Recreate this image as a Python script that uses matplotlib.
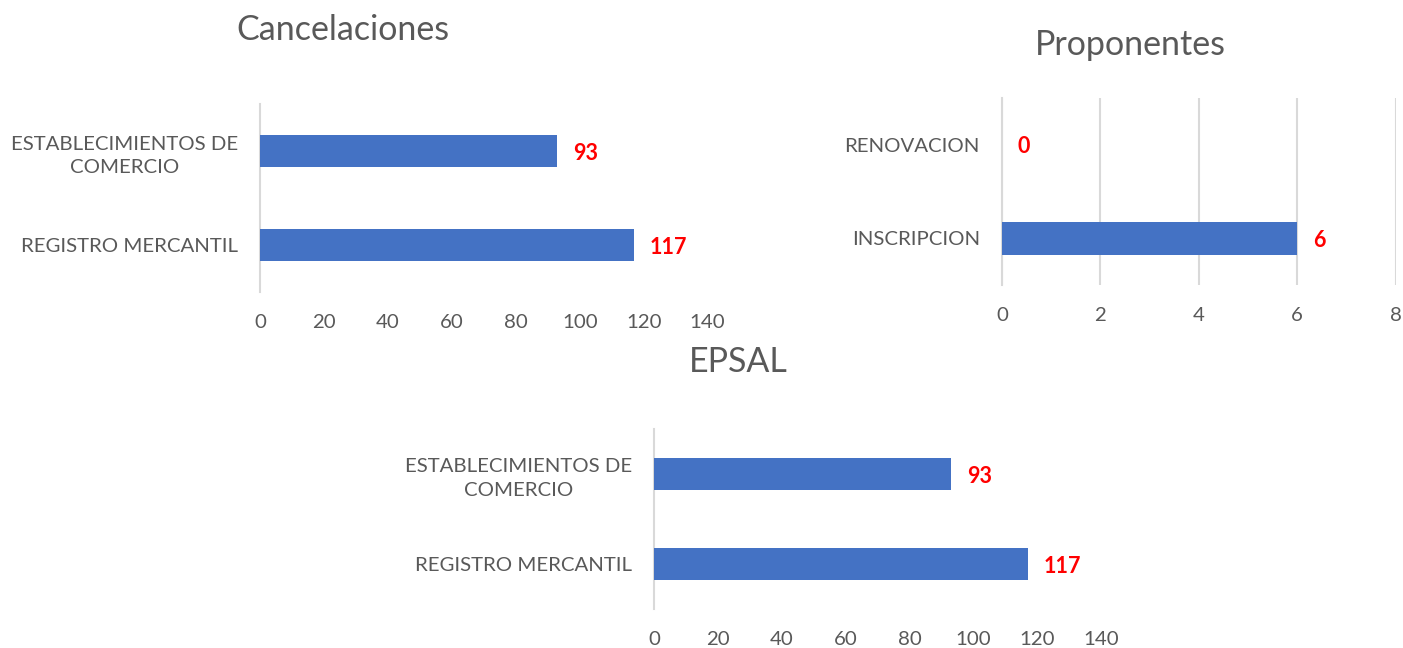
import matplotlib
matplotlib.use("Agg")
import matplotlib.pyplot as plt

plt.rcParams['font.family'] = ['Lato', 'DejaVu Sans']

# Data
cancel_categories = ["REGISTRO MERCANTIL", "ESTABLECIMIENTOS DE\nCOMERCIO"]
cancel_values = [117, 93]
prop_categories = ["INSCRIPCION", "RENOVACION"]
prop_values = [6, 0]
epsal_categories = ["REGISTRO MERCANTIL", "ESTABLECIMIENTOS DE\nCOMERCIO"]
epsal_values = [117, 93]

cancel_ticks = [0, 20, 40, 60, 80, 100, 120, 140]
prop_ticks = [0, 2, 4, 6, 8]
epsal_ticks = [0, 20, 40, 60, 80, 100, 120, 140]

BAR = "#4472C4"
GRID = "#D9D9D9"
TXT = "#595959"
W, H = 1403, 648

fig = plt.figure(figsize=(W / 100, H / 100), dpi=100)


def px_axes(left, right, top, bottom):
    return fig.add_axes([left / W, 1 - bottom / H, (right - left) / W, (bottom - top) / H])


def draw(ax, cats, vals, ticks, grid):
    y = list(range(len(cats)))
    ax.barh(y, vals, height=0.35, color=BAR, zorder=3)
    ax.set_xlim(ticks[0], ticks[-1])
    ax.set_ylim(-0.5, len(cats) - 0.5)
    ax.set_yticks(y)
    ax.set_yticklabels(cats, multialignment='center', linespacing=1.45)
    ax.set_xticks(ticks)
    ax.set_xticklabels([str(t) for t in ticks])
    for s in ['top', 'right', 'bottom']:
        ax.spines[s].set_visible(False)
    ax.spines['left'].set_color(GRID)
    ax.spines['left'].set_linewidth(1.5)
    ax.tick_params(axis='both', length=0, colors=TXT, labelsize=14.7)
    ax.tick_params(axis='x', pad=16)
    ax.tick_params(axis='y', pad=16)
    if grid:
        ax.xaxis.grid(True, color=GRID, linewidth=1.5, zorder=0)
    ax.set_axisbelow(True)
    for yi, v in zip(y, vals):
        ax.annotate(str(v), (v, yi), xytext=(11.5, -1.5), textcoords='offset points',
                    ha='left', va='center', color='#FF0000', fontsize=15.5,
                    fontweight='bold')


ax1 = px_axes(260, 707.6, 104, 292)
draw(ax1, cancel_categories, cancel_values, cancel_ticks, False)
ax2 = px_axes(1002, 1395.6, 98, 285)
draw(ax2, prop_categories, prop_values, prop_ticks, True)
ax3 = px_axes(654, 1101, 429, 609)
draw(ax3, epsal_categories, epsal_values, epsal_ticks, False)

fig.text(343 / W, 1 - 30 / H, "Cancelaciones", ha='center', va='center',
         fontsize=24.5, color=TXT)
fig.text(1130 / W, 1 - 45 / H, "Proponentes", ha='center', va='center',
         fontsize=24.5, color=TXT)
fig.text(738 / W, 1 - 362 / H, "EPSAL", ha='center', va='center',
         fontsize=24.5, color=TXT)

fig.savefig("out.png", dpi=100)
